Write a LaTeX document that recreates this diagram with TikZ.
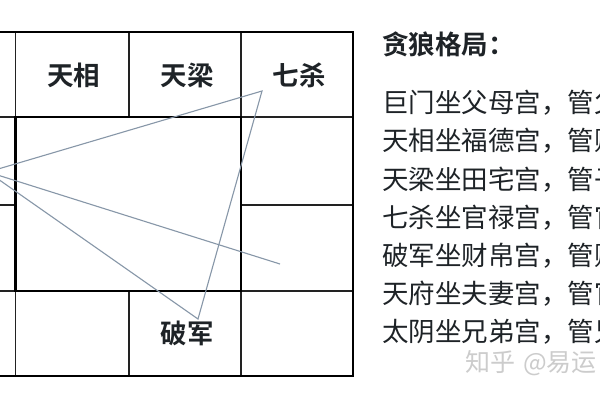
\documentclass[tikz,border=0pt]{standalone}
\usepackage{fontspec}
\newfontfamily\cjk{Noto Sans CJK SC}
\newfontfamily\cjkbold{Noto Sans CJK SC Bold}

\definecolor{gridcol}{HTML}{222222}
\definecolor{linkcol}{HTML}{8797A8}
\definecolor{inkcol}{HTML}{1E2327}

\tikzset{
  cellline/.style={draw=gridcol, line width=1.3pt},
  boldline/.style={draw=black, line width=2.6pt},
  linkline/.style={draw=linkcol, line width=1.1pt},
  starname/.style={font=\cjkbold\fontsize{26.5}{26.5}\selectfont, text=inkcol, inner sep=0pt},
  textline/.style={font=\cjk\fontsize{26.5}{26.5}\selectfont, text=inkcol, inner sep=0pt, anchor=west},
  titleline/.style={font=\cjkbold\fontsize{26.5}{26.5}\selectfont, text=inkcol, inner sep=0pt, anchor=west}
}

\begin{document}
\begin{tikzpicture}[x=1pt,y=-1pt]
        \useasboundingbox (0,0) rectangle (600,400);
        \clip (0,0) rectangle (600,400);
        \fill[white] (0,0) rectangle (600,400);

        % cell lines of the palace grid
        \draw[cellline] (15.7,32) -- (15.7,376);
        \draw[cellline] (241,32) -- (241,376);
        \draw[cellline] (129,32) -- (129,117);
        \draw[cellline] (129,291) -- (129,376);
        \draw[cellline] (-97.3,117) -- (353,117);
        \draw[cellline] (-97.3,291) -- (353,291);
        \draw[cellline] (-97.3,205) -- (15.7,205);
        \draw[cellline] (241,205) -- (353,205);

        % outer border and centre square
        \draw[boldline] (-97.3,32) rectangle (353,376);
        \draw[boldline] (15.7,117) rectangle (241,291);

        % star names
        \node[starname] (tianxiang) at (73.5,75) {天相};
        \node[starname] (tianliang) at (187,75) {天梁};
        \node[starname] (qisha) at (299,75) {七杀};
        \node[starname] (pojun) at (187,333) {破军};

        % connecting lines
        \coordinate (tanlang) at (-12,172);
        \coordinate (qishapt) at (262,91);
        \coordinate (pojunpt) at (198,319);
        \coordinate (endpt) at (280,264);
        \draw[linkline] (tanlang) -- (qishapt) -- (pojunpt) -- (tanlang);
        \draw[linkline] (tanlang) -- (endpt);

        % text on the right
        \node[titleline] (title) at (382,44) {贪狼格局：};
        \node[textline] (row1) at (382,103) {巨门坐父母宫，管父母};
        \node[textline] (row2) at (382,141.2) {天相坐福德宫，管财帛};
        \node[textline] (row3) at (382,179.4) {天梁坐田宅宫，管子女};
        \node[textline] (row4) at (382,217.6) {七杀坐官禄宫，管官禄};
        \node[textline] (row5) at (382,255.8) {破军坐财帛宫，管财帛};
        \node[textline] (row6) at (382,294) {天府坐夫妻宫，管官禄};
        \node[textline] (row7) at (382,332.2) {太阴坐兄弟宫，管兄弟};

        % watermark
        \node[textline, text=black!20, font=\cjk\fontsize{25}{25}\selectfont] (mark) at (465,363) {知乎\hspace{8pt}@易运};

      \end{tikzpicture}
\end{document}
